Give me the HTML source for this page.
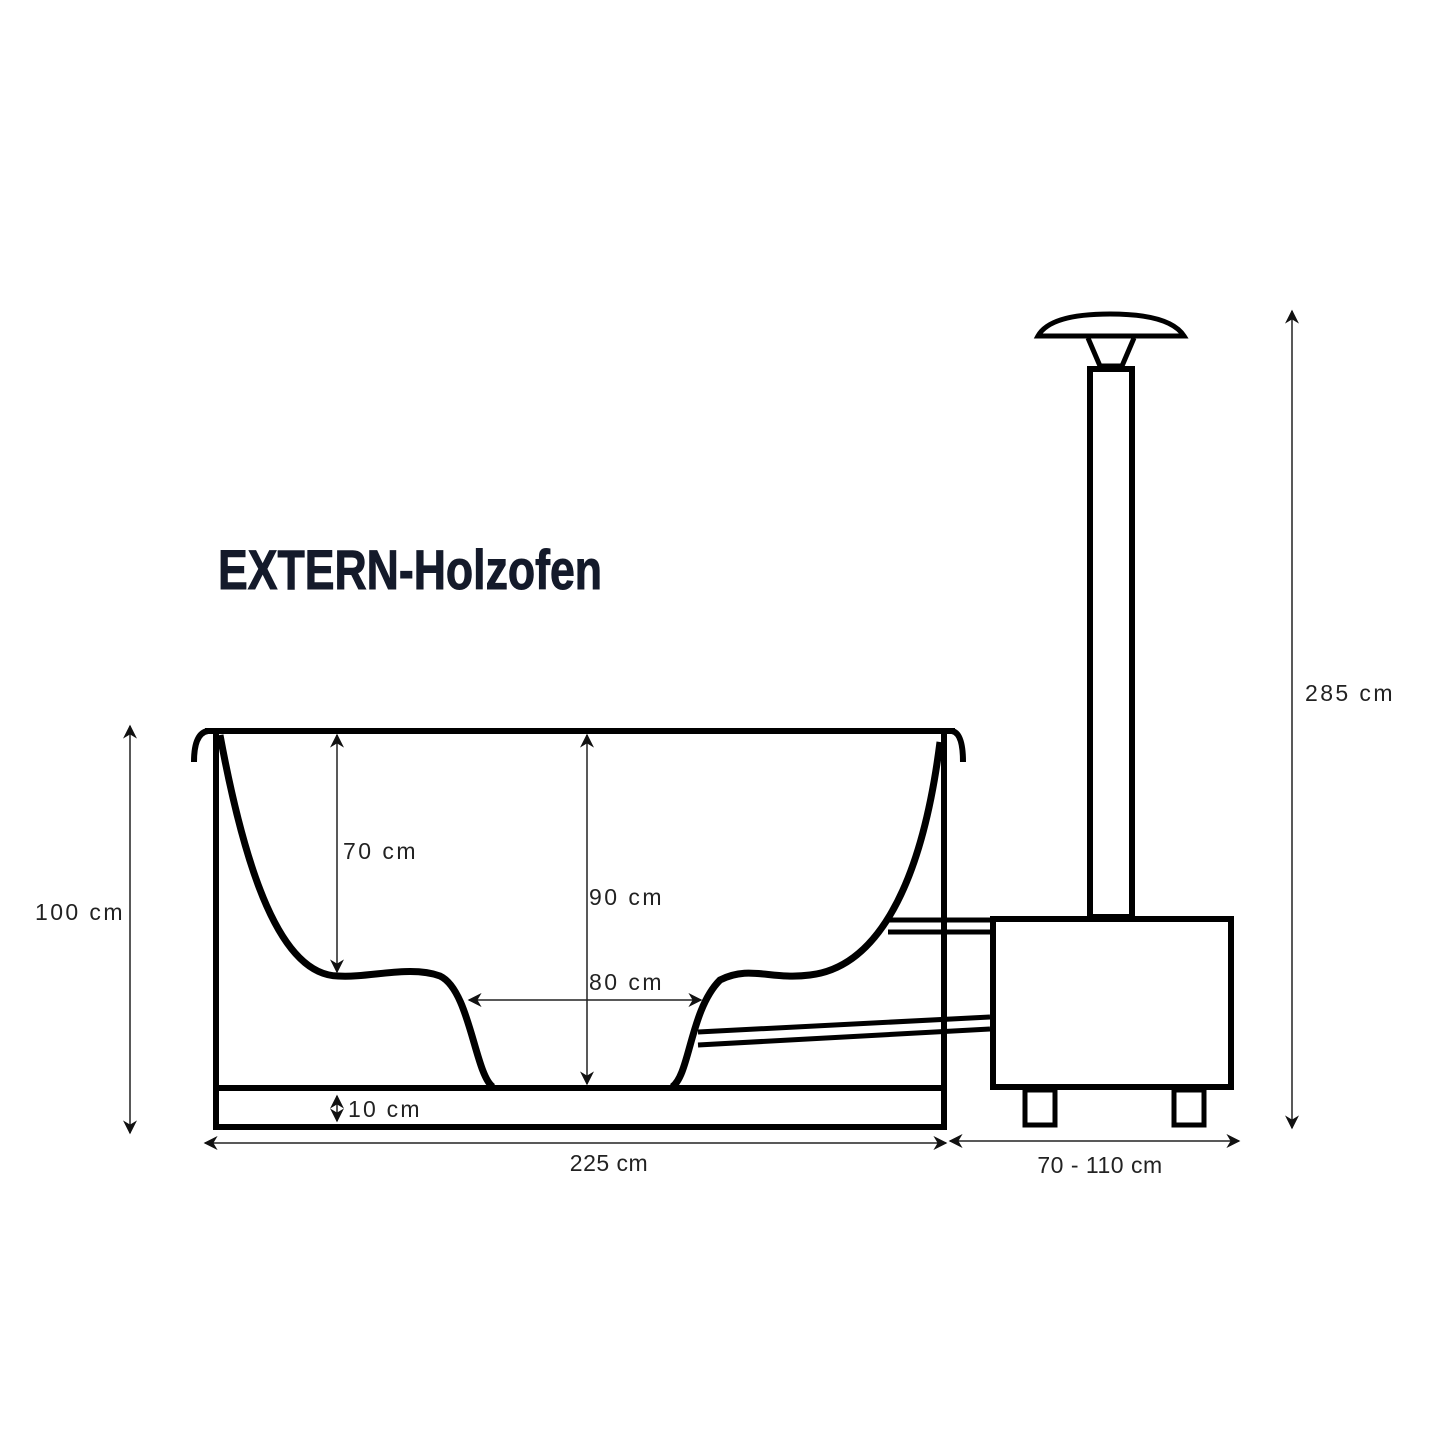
<!DOCTYPE html>
<html><head><meta charset="utf-8"><style>
html,body{margin:0;padding:0;background:#fff;}
svg{display:block;}
.t{font-family:"Liberation Sans",sans-serif;font-size:23px;fill:#222;letter-spacing:0.5px;}
</style></head><body>
<svg width="1445" height="1445" viewBox="0 0 1445 1445" xmlns="http://www.w3.org/2000/svg">
<defs>
<marker id="a" viewBox="0 0 10 10" refX="9" refY="5" markerWidth="14" markerHeight="14" orient="auto-start-reverse" markerUnits="userSpaceOnUse">
<path d="M0,0 L10,5 L0,10 L3,5 Z" fill="#111"/></marker>
</defs>
<text x="218" y="589" font-family="'Liberation Sans Narrow','Liberation Sans',sans-serif" font-weight="bold" font-size="56" fill="#141a2a" stroke="#141a2a" stroke-width="1" textLength="384" lengthAdjust="spacingAndGlyphs">EXTERN-Holzofen</text>

<g fill="none" stroke="#000" stroke-width="6">
<line x1="205" y1="731" x2="955" y2="731"/>
<line x1="216" y1="731" x2="216" y2="1130"/>
<line x1="944" y1="731" x2="944" y2="1130"/>
<line x1="216" y1="1088" x2="944" y2="1088"/>
<line x1="216" y1="1127" x2="944" y2="1127"/>
<path d="M208,731 Q194,733 194,762"/>
<path d="M952,731 Q963,733 963,762"/>
<path d="M220,735 C245,870 280,975 338,976 C370,978 410,965 440,976 C470,990 475,1075 493,1087" stroke-width="7"/>
<path d="M672,1087 C690,1075 690,1010 720,980 C750,965 770,980 810,975 C870,968 920,900 940,742" stroke-width="7"/>
<line x1="888" y1="920" x2="990" y2="920" stroke-width="5"/>
<line x1="888" y1="932" x2="990" y2="932" stroke-width="5"/>
<line x1="698" y1="1032" x2="990" y2="1017" stroke-width="5"/>
<line x1="698" y1="1045" x2="990" y2="1029" stroke-width="5"/>
<rect x="993" y="919" width="238" height="168"/>
<rect x="1025" y="1090" width="30" height="35" stroke-width="5"/>
<rect x="1174" y="1090" width="30" height="35" stroke-width="5"/>
<rect x="1090" y="369" width="42" height="548"/>
<path d="M1038,336 Q1050,314 1110,314 Q1170,314 1184,336 Z" stroke-width="5"/>
<path d="M1088,338 L1100,366 L1122,366 L1134,338" stroke-width="5"/>
</g>

<g stroke="#222" stroke-width="1.5" fill="none" marker-start="url(#a)" marker-end="url(#a)">
<line x1="130" y1="726" x2="130" y2="1133"/>
<line x1="1292" y1="311" x2="1292" y2="1128"/>
<line x1="205" y1="1143" x2="946" y2="1143"/>
<line x1="950" y1="1141" x2="1239" y2="1141"/>
<line x1="337" y1="735" x2="337" y2="972"/>
<line x1="587" y1="735" x2="587" y2="1084"/>
<line x1="469" y1="1000" x2="701" y2="1000"/>
</g>
<g stroke="#222" stroke-width="1.5" fill="none" marker-start="url(#a)" marker-end="url(#a)">
<line x1="337" y1="1096" x2="337" y2="1121" />
</g>

<text class="t" x="35" y="920" textLength="88">100 cm</text>
<text class="t" x="1305" y="701" textLength="88">285 cm</text>
<text class="t" x="343" y="859" textLength="73">70 cm</text>
<text class="t" x="589" y="905" textLength="73">90 cm</text>
<text class="t" x="589" y="990" textLength="73">80 cm</text>
<text class="t" x="348" y="1117" textLength="72">10 cm</text>
<text class="t" x="609" y="1171" text-anchor="middle">225 cm</text>
<text class="t" x="1100" y="1173" text-anchor="middle">70 - 110 cm</text>
</svg>
</body></html>
